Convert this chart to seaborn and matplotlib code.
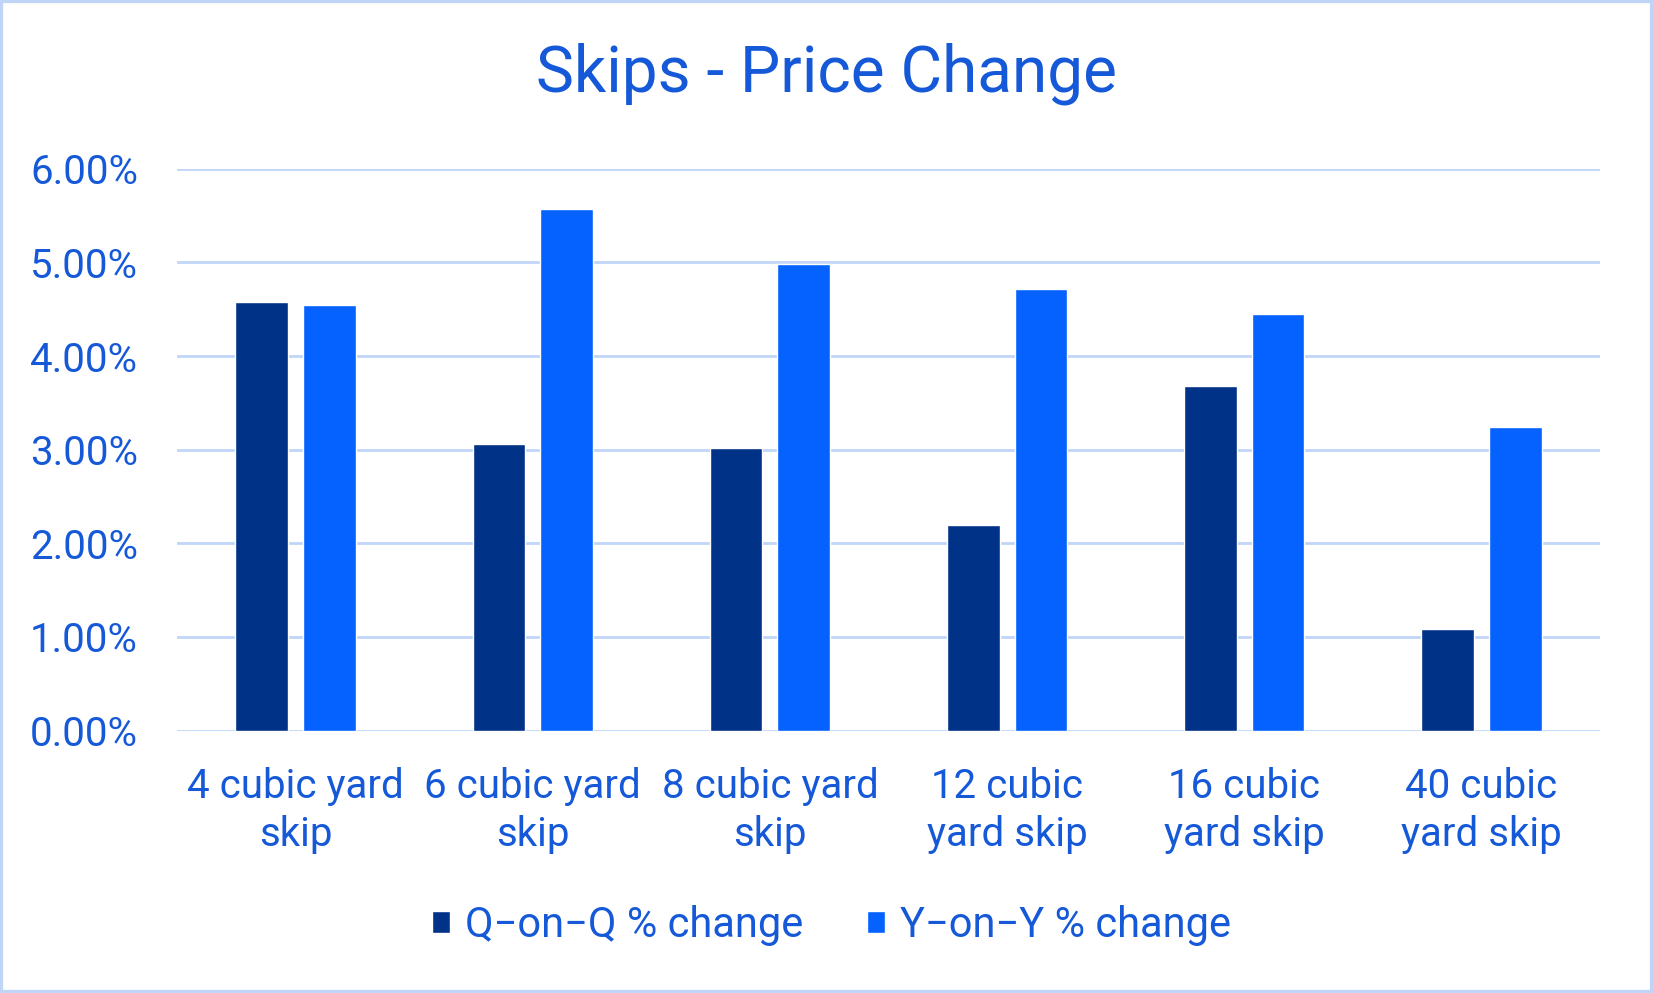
import matplotlib
matplotlib.use("Agg")
import matplotlib.pyplot as plt
import seaborn as sns
import pandas as pd
from matplotlib.patches import Rectangle
from matplotlib.ticker import FuncFormatter

# ---- data ----
categories = ["4 cubic yard\nskip", "6 cubic yard\nskip", "8 cubic yard\nskip",
              "12 cubic\nyard skip", "16 cubic\nyard skip", "40 cubic\nyard skip"]
q_on_q = [4.58, 3.06, 3.02, 2.20, 3.68, 1.09]
y_on_y = [4.55, 5.57, 4.98, 4.72, 4.45, 3.24]
series_names = ["Q\u2212on\u2212Q % change", "Y\u2212on\u2212Y % change"]
y_ticks = [0, 1, 2, 3, 4, 5, 6]
title = "Skips - Price Change"

# ---- style ----
dark_blue = "#003288"
bright_blue = "#0562FF"
text_color = "#1559D8"
grid_color = "#C0D5F8"
border_color = "#BFD4F7"

sns.set_theme(style="white")
plt.rcParams['font.family'] = ['Roboto', 'DejaVu Sans']
plt.rcParams['font.weight'] = 'normal'

df = pd.DataFrame({
    "category": categories * 2,
    "value": q_on_q + y_on_y,
    "series": [series_names[0]] * len(categories) + [series_names[1]] * len(categories),
})

fig = plt.figure(figsize=(16.53, 9.93), dpi=100)
ax = fig.add_axes([0.107, 0.2643, 0.861, 0.5657])

sns.barplot(data=df, x="category", y="value", hue="series",
            palette=[dark_blue, bright_blue], width=0.569, gap=0.22,
            saturation=1, ax=ax, legend=True)

ax.set_ylim(0, 6)
ax.set_xlim(-0.5, len(categories) - 0.5)
ax.set_yticks(y_ticks)
ax.yaxis.set_major_formatter(FuncFormatter(lambda v, p: f"{v:.2f}%"))
ax.set_xlabel("")
ax.set_ylabel("")
for s in ax.spines.values():
    s.set_visible(False)
ax.grid(axis="y", color=grid_color, linewidth=2.0)
ax.set_axisbelow(True)
ax.tick_params(axis="y", length=0, pad=28, labelsize=29, labelcolor=text_color)
ax.tick_params(axis="x", length=0, pad=26, labelsize=29, labelcolor=text_color)
for lab in ax.get_xticklabels():
    lab.set_linespacing(1.3)

ax.legend_.remove()
handles, labels = ax.get_legend_handles_labels()
leg = fig.legend(handles, labels, loc="center", bbox_to_anchor=(0.503, 0.068),
                 ncol=2, frameon=False, fontsize=30, handlelength=0.43,
                 handleheight=0.43, handletextpad=0.35, columnspacing=1.55)
for t in leg.get_texts():
    t.set_color(text_color)

fig.text(0.5, 0.926, title, ha="center", va="center", fontsize=46,
         color=text_color)

fig.patches.append(Rectangle((0, 0), 1, 1, transform=fig.transFigure,
                             fill=False, edgecolor=border_color, linewidth=4.5))

fig.savefig("out.png", dpi=100, facecolor="white")
